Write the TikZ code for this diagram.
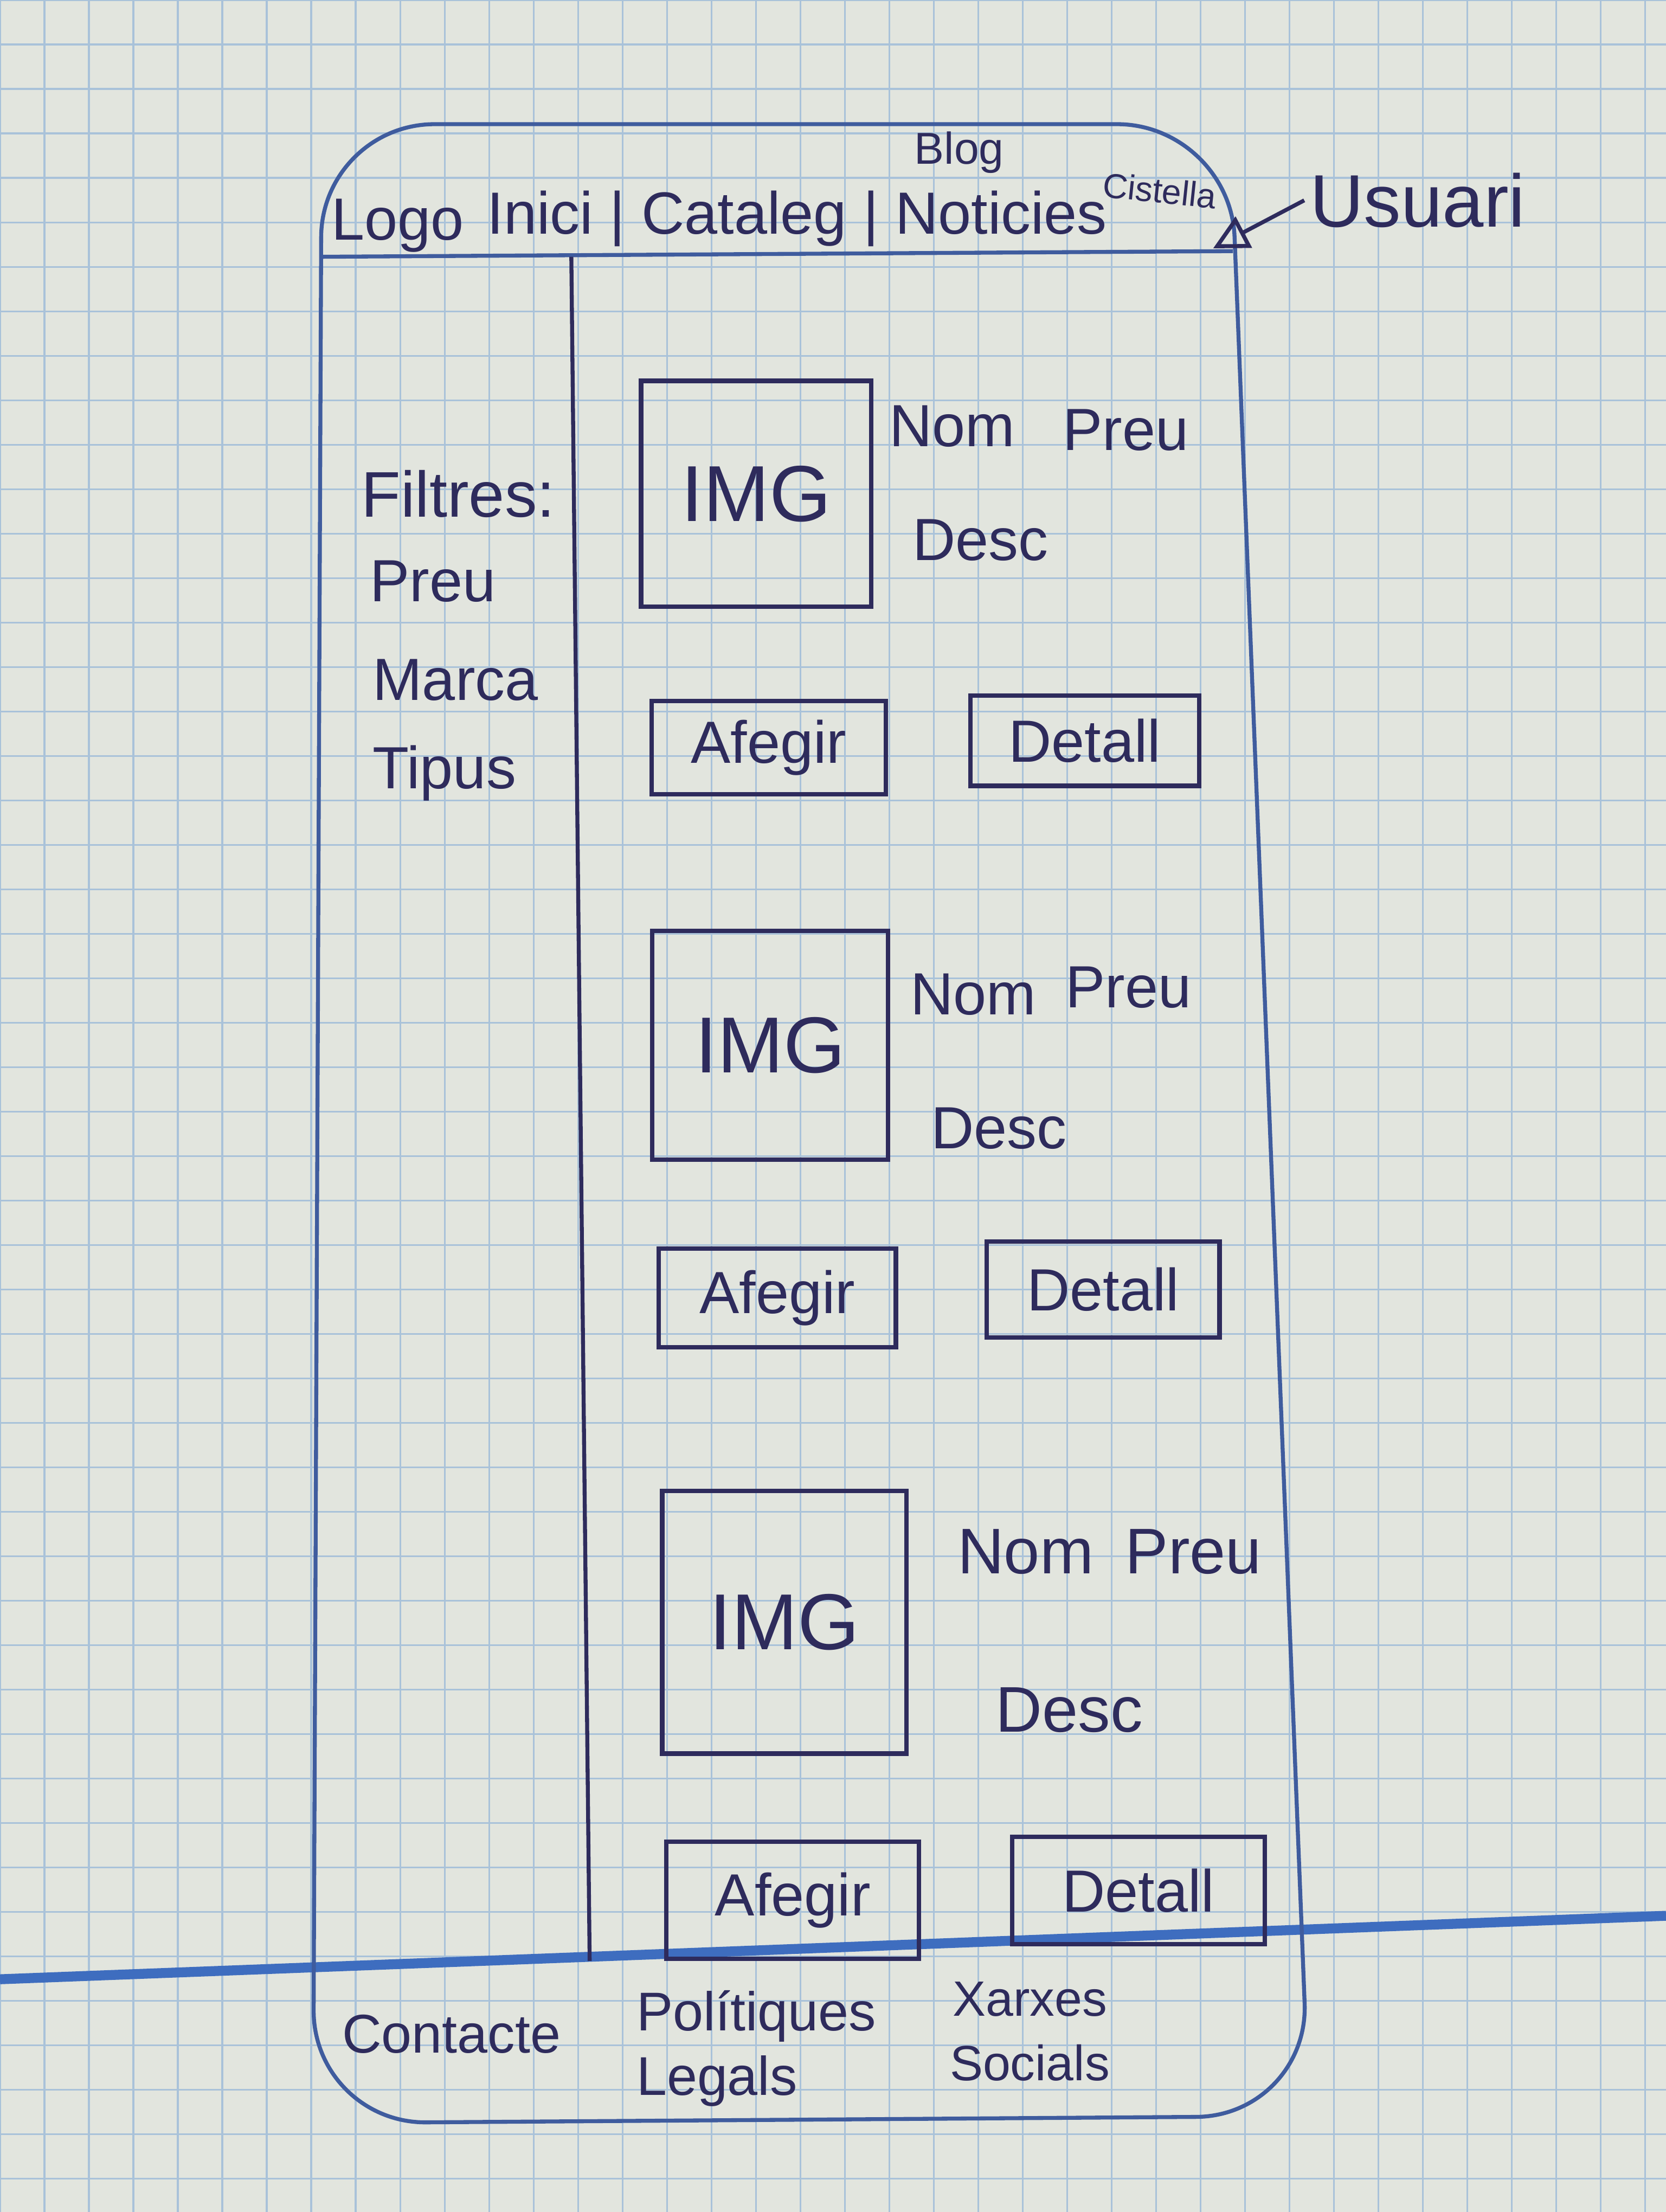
\documentclass[tikz,border=0pt]{standalone}
\usepackage{fontspec}
\setmainfont{Liberation Sans}
\usepackage{xcolor}
\usepackage{tikz}
\usetikzlibrary{arrows.meta,positioning}
\definecolor{paper}{HTML}{E2E5DE}
\definecolor{gridblue}{HTML}{A9C2D9}
\definecolor{inkblue}{HTML}{2E2B5C}
\definecolor{penblue}{HTML}{3F5C9E}
\definecolor{marginblue}{HTML}{3E6DBF}

\begin{document}
\begin{tikzpicture}[x=0.01cm, y=-0.01cm,
    hand/.style={draw=inkblue, line width=0.8pt},
    txt/.style={text=inkblue, inner sep=1pt},
    boxed/.style={draw=inkblue, line width=0.9pt, text=inkblue, inner sep=0pt},
    btnfont/.style={font=\fontsize{12}{14}\selectfont}]
    \useasboundingbox (0,0) rectangle (1181,1568);

    % Paper
    \fill[paper] (0,0) rectangle (1181,1568);
    \draw[gridblue, line width=0.35pt, step=0.315cm] (0,0) grid (1181,1568);
    \draw[marginblue, line width=2pt] (0,1403) -- (1181,1358);

    % Frame
    \draw[penblue, line width=0.8pt, rounded corners=0.8cm] (228,88) -- (872,88) -- (928,1500) -- (222,1505) -- cycle;
    \draw[penblue, line width=0.8pt] (228,182) -- (874,178);
    \draw[hand] (405,182) -- (418,1390);

    % Header
    \node[txt, font=\fontsize{12}{14}\selectfont] (logo) at (282,160) {Logo};
    \node[txt, font=\fontsize{12}{14}\selectfont] (menu) at (565,155) {Inici | Cataleg | Noticies};
    \node[txt, font=\fontsize{9}{11}\selectfont] (blog) at (680,108) {Blog};
    \node[txt, font=\fontsize{7}{9}\selectfont, rotate=-6] (cistella) at (822,135) {Cistella};
    \node[txt, font=\fontsize{15}{18}\selectfont] (usuari) at (1005,142) {Usuari};
    \coordinate (corner) at (860,176);
    \draw[hand, -{Triangle[open, length=7pt, width=7pt]}] (usuari.west) -- (corner);

    % Filters
    \node[txt, anchor=west, font=\fontsize{13}{15}\selectfont] (filtres) at (252,350) {Filtres:};
    \node[txt, anchor=west, font=\fontsize{12}{14}\selectfont] (preu) at (258,412) {Preu};
    \node[txt, anchor=west, font=\fontsize{12}{14}\selectfont] (marca) at (260,482) {Marca};
    \node[txt, anchor=west, font=\fontsize{12}{14}\selectfont] (tipus) at (260,548) {Tipus};

    % Card 1
    \node[boxed, minimum width=1.63cm, minimum height=1.6cm, font=\fontsize{16}{19}\selectfont] (img1) at (536,350) {IMG};
    \node[txt, btnfont] (nom1) at (675,302) {Nom};
    \node[txt, btnfont] (preu1) at (798,305) {Preu};
    \node[txt, btnfont] (desc1) at (695,383) {Desc};
    \node[boxed, btnfont, minimum width=1.66cm, minimum height=0.66cm] (afegir1) at (545,530) {Afegir};
    \node[boxed, btnfont, minimum width=1.62cm, minimum height=0.64cm] (detall1) at (769,525) {Detall};

    % Card 2
    \node[boxed, minimum width=1.67cm, minimum height=1.62cm, font=\fontsize{16}{19}\selectfont] (img2) at (546,741) {IMG};
    \node[txt, btnfont] (nom2) at (690,705) {Nom};
    \node[txt, btnfont] (preu2) at (800,700) {Preu};
    \node[txt, btnfont] (desc2) at (708,800) {Desc};
    \node[boxed, btnfont, minimum width=1.68cm, minimum height=0.7cm] (afegir2) at (551,920) {Afegir};
    \node[boxed, btnfont, minimum width=1.65cm, minimum height=0.68cm] (detall2) at (782,914) {Detall};

    % Card 3
    \node[boxed, minimum width=1.73cm, minimum height=1.86cm, font=\fontsize{16}{19}\selectfont] (img3) at (556,1150) {IMG};
    \node[txt, font=\fontsize{13}{15}\selectfont] (nom3) at (727,1100) {Nom};
    \node[txt, font=\fontsize{13}{15}\selectfont] (preu3) at (846,1100) {Preu};
    \node[txt, font=\fontsize{13}{15}\selectfont] (desc3) at (758,1212) {Desc};
    \node[boxed, btnfont, minimum width=1.79cm, minimum height=0.83cm] (afegir3) at (562,1347) {Afegir};
    \node[boxed, btnfont, minimum width=1.79cm, minimum height=0.76cm] (detall3) at (807,1340) {Detall};

    % Footer
    \node[txt, font=\fontsize{11}{13}\selectfont] (contacte) at (320,1442) {Contacte};
    \node[txt, anchor=west, align=left, font=\fontsize{11}{13}\selectfont] (legals) at (447,1452) {Polítiques\\Legals};
    \node[txt, align=center, font=\fontsize{10}{13}\selectfont] (xarxes) at (730,1440) {Xarxes\\Socials};
\end{tikzpicture}
\end{document}
